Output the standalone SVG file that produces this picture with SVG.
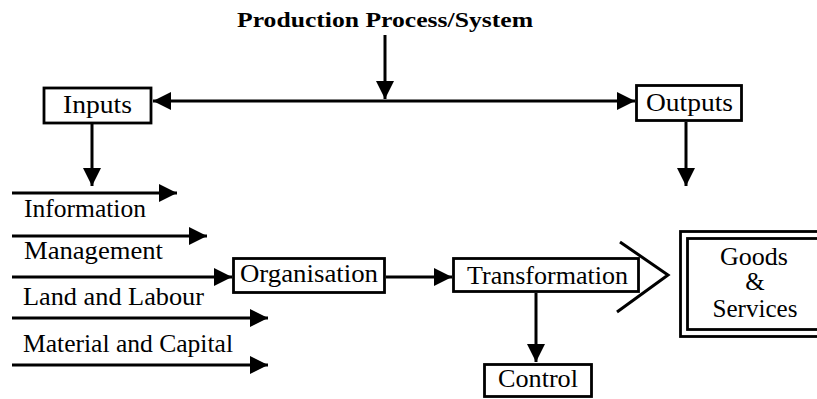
<svg xmlns="http://www.w3.org/2000/svg" width="817" height="399" viewBox="0 0 817 399">
  <defs>
    <marker id="ah" viewBox="0 0 10 10" refX="10" refY="5" markerWidth="6.3" markerHeight="6" markerUnits="strokeWidth" orient="auto-start-reverse">
      <path d="M0,0 L10,5 L0,10 Z" fill="#000"/>
    </marker>
    <style>
      .box { fill: #fff; stroke: #000; stroke-width: 2.8; }
      .ln { fill: none; stroke: #000; stroke-width: 3; }
      .arr { fill: none; stroke: #000; stroke-width: 3; marker-end: url(#ah); }
      .t { font-family: 'Liberation Serif', 'Times New Roman', Tinos, serif; font-size: 25px; fill: #000; }
      .title { font-family: 'Liberation Serif', 'Times New Roman', Tinos, serif; font-size: 22px; font-weight: bold; fill: #000; }
    </style>
  </defs>

  <text class="title" x="237" y="27" textLength="296" lengthAdjust="spacingAndGlyphs">Production Process/System</text>

  <g id="connectors">
    <line class="arr" x1="385" y1="35" x2="385" y2="99"/>
    <line class="arr" x1="385" y1="101" x2="153" y2="101"/>
    <line class="arr" x1="385" y1="101" x2="635" y2="101"/>
    <line class="arr" x1="92" y1="123" x2="92" y2="186"/>
    <line class="arr" x1="686" y1="122" x2="686" y2="186"/>
    <line class="arr" x1="12" y1="193" x2="177" y2="193"/>
    <line class="arr" x1="12" y1="236" x2="207" y2="236"/>
    <line class="arr" x1="12" y1="277" x2="232" y2="277"/>
    <line class="arr" x1="12" y1="318" x2="268" y2="318"/>
    <line class="arr" x1="12" y1="365" x2="268" y2="365"/>
    <line class="arr" x1="386" y1="277" x2="452" y2="277"/>
    <line class="arr" x1="536" y1="293" x2="536" y2="362"/>
  </g>

  <g id="inputs">
    <rect class="box" x="44" y="88" width="107" height="35"/>
    <text class="t" x="63" y="113" textLength="69" lengthAdjust="spacingAndGlyphs">Inputs</text>
  </g>

  <g id="outputs">
    <rect class="box" x="636.5" y="85.5" width="105" height="35"/>
    <text class="t" x="646" y="111" textLength="87" lengthAdjust="spacingAndGlyphs">Outputs</text>
  </g>

  <g id="input-labels">
    <text class="t" x="24" y="217" textLength="122" lengthAdjust="spacingAndGlyphs">Information</text>
    <text class="t" x="24" y="259" textLength="139" lengthAdjust="spacingAndGlyphs">Management</text>
    <text class="t" x="23" y="305" textLength="181" lengthAdjust="spacingAndGlyphs">Land and Labour</text>
    <text class="t" x="23" y="352" textLength="210" lengthAdjust="spacingAndGlyphs">Material and Capital</text>
  </g>

  <g id="organisation">
    <rect class="box" x="233.5" y="258.5" width="151" height="34"/>
    <text class="t" x="240" y="282" textLength="138" lengthAdjust="spacingAndGlyphs">Organisation</text>
  </g>

  <g id="transformation">
    <rect class="box" x="453.5" y="258.5" width="185" height="33"/>
    <text class="t" x="467" y="284" textLength="161" lengthAdjust="spacingAndGlyphs">Transformation</text>
    <polyline class="ln" points="620,242 668,275 617,312"/>
  </g>

  <g id="control">
    <rect class="box" x="484.5" y="364.5" width="107" height="32"/>
    <text class="t" x="498" y="387" textLength="80" lengthAdjust="spacingAndGlyphs">Control</text>
  </g>

  <g id="goods-services">
    <rect class="box" x="680.5" y="231.5" width="150" height="105"/>
    <rect class="box" x="687.5" y="238.5" width="140" height="91"/>
    <text class="t" x="754" y="265" text-anchor="middle" textLength="68" lengthAdjust="spacingAndGlyphs">Goods</text>
    <text class="t" x="755" y="290" text-anchor="middle">&amp;</text>
    <text class="t" x="755" y="317" text-anchor="middle" textLength="85" lengthAdjust="spacingAndGlyphs">Services</text>
  </g>
</svg>
